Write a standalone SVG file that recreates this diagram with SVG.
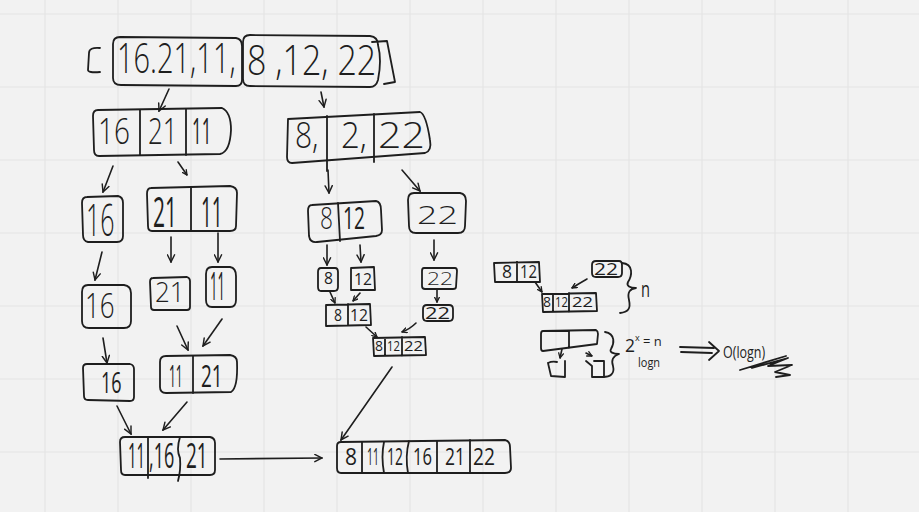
<svg xmlns="http://www.w3.org/2000/svg" width="919" height="512" viewBox="0 0 919 512">
<style>
.bg{fill:#f2f2f2}
.grid line{stroke:#e4e4e4;stroke-width:1.2}
.s{fill:none;stroke:#1e1e1e;stroke-width:1.8;stroke-linecap:round;stroke-linejoin:round}
.t{font-family:"Open Sans","Liberation Sans",sans-serif;font-weight:300;fill:#1e1e1e}
.b{font-weight:500}
.c line,.c path{fill:none;stroke:#1e1e1e;stroke-width:1.6;stroke-linecap:round;stroke-linejoin:round}
</style>
<defs>
<marker id="ah" viewBox="0 0 10 10" refX="9" refY="5" markerWidth="9" markerHeight="9" markerUnits="userSpaceOnUse" orient="auto"><path d="M1,1 L9,5 L1,9" fill="none" stroke="#1e1e1e" stroke-width="1.6" stroke-linecap="round"/></marker>
<marker id="as" viewBox="0 0 10 10" refX="9" refY="5" markerWidth="6" markerHeight="6" markerUnits="userSpaceOnUse" orient="auto"><path d="M1,1 L9,5 L1,9" fill="none" stroke="#1e1e1e" stroke-width="2.2" stroke-linecap="round"/></marker>
</defs>
<rect class="bg" x="0" y="0" width="919" height="512"/>
<g class="grid">
<line x1="45" y1="0" x2="45" y2="512"/><line x1="118" y1="0" x2="118" y2="512"/><line x1="191" y1="0" x2="191" y2="512"/><line x1="264" y1="0" x2="264" y2="512"/><line x1="337" y1="0" x2="337" y2="512"/><line x1="410" y1="0" x2="410" y2="512"/><line x1="483" y1="0" x2="483" y2="512"/><line x1="556" y1="0" x2="556" y2="512"/><line x1="629" y1="0" x2="629" y2="512"/><line x1="702" y1="0" x2="702" y2="512"/><line x1="775" y1="0" x2="775" y2="512"/><line x1="848" y1="0" x2="848" y2="512"/>
<line x1="0" y1="14" x2="919" y2="14"/><line x1="0" y1="87" x2="919" y2="87"/><line x1="0" y1="160" x2="919" y2="160"/><line x1="0" y1="233" x2="919" y2="233"/><line x1="0" y1="306" x2="919" y2="306"/><line x1="0" y1="379" x2="919" y2="379"/><line x1="0" y1="452" x2="919" y2="452"/>
</g>

<g id="top-array">
<path class="s" d="M100,48 Q89,47 89,53 L88,70 Q88,73 100,72"/>
<path class="s" d="M120,37 L236,38 Q242,39 242,46 L242,80 Q242,86 236,86 L121,85 Q113,85 113,78 L113,44 Q113,37 120,37 Z"/>
<path class="s" d="M250,35 L370,36 Q378,37 378,45 Q382,60 378,80 Q376,87 370,87 L250,86 Q243,86 243,79 L243,42 Q243,35 250,35 Z"/>
<path class="s" d="M372,42 L387,41 L395,82 L384,84"/>
<text class="t" transform="translate(117,73) scale(1,1.45)" font-size="29">16.21,11,</text>
<text class="t" transform="translate(247,75) scale(1,1.24)" font-size="34">8 ,12, 22</text>
</g>

<g id="n-16-21-11">
<path class="s" d="M98,110 L222,108 Q231,112 231,130 Q230,152 220,154 L99,156 Q94,156 94,150 L93,116 Q93,110 98,110 Z"/>
<path class="s" d="M140,110 L140,155 M186,109 L186,155"/>
<text class="t" transform="translate(98,144) scale(1,1.29)" font-size="28">16</text>
<text class="t" transform="translate(148,144) scale(1,1.38)" font-size="26">21</text>
<text class="t b" transform="translate(192,144) scale(1,2.12)" font-size="17">11</text>
</g>

<g id="n-8-12-22">
<path class="s" d="M288,119 L420,112 Q426,114 430,140 Q432,151 425,153 L292,163 Q287,163 287,157 Z"/>
<path class="s" d="M327,116 L327,171 M374,114 L374,162"/>
<text class="t" transform="translate(295,148) scale(1,1.2)" font-size="30">8,</text>
<text class="t" transform="translate(341,148) scale(1,1.09)" font-size="33">2,</text>
<text class="t" transform="translate(378,148) scale(1,0.88)" font-size="41">22</text>
</g>

<g id="n-16-a">
<path class="s" d="M87,197 L118,196 Q123,197 123,203 L123,236 Q123,242 117,242 L88,242 Q83,241 83,235 L82,203 Q82,197 87,197 Z"/>
<text class="t" transform="translate(86,236) scale(1,1.76)" font-size="25">16</text>
</g>

<g id="n-21-11">
<path class="s" d="M151,188 L230,186 Q237,187 237,193 L236,226 Q236,231 230,231 L152,231 Q148,231 148,226 L147,194 Q147,188 151,188 Z"/>
<path class="s" d="M191,187 L191,231"/>
<text class="t b" transform="translate(153,227) scale(1,2)" font-size="21">21</text>
<text class="t b" transform="translate(201,227) scale(1,2.21)" font-size="19">11</text>
</g>

<g id="n-21">
<path class="s" d="M153,278 L187,277 Q190,278 190,281 L190,307 Q190,310 187,310 L154,310 Q151,310 151,307 L150,282 Q150,278 153,278 Z"/>
<text class="t" transform="translate(155,302) scale(1,1.08)" font-size="26">21</text>
</g>

<g id="n-11">
<path class="s" d="M212,267 L230,267 Q236,268 236,276 L236,300 Q236,307 230,307 L212,307 Q206,307 206,300 L206,274 Q206,267 212,267 Z"/>
<text class="t b" transform="translate(210,300) scale(1,2.9)" font-size="13">11</text>
</g>

<g id="n-16-b">
<path class="s" d="M88,285 L124,285 Q131,286 131,293 L131,321 Q131,328 124,328 L89,328 Q82,328 82,321 L82,292 Q82,285 88,285 Z"/>
<text class="t" transform="translate(85,318) scale(1,1.35)" font-size="26">16</text>
</g>

<g id="n-16-c">
<path class="s" d="M87,364 L130,364 Q134,365 134,369 L134,397 Q134,401 130,401 L88,400 Q84,400 84,396 L83,368 Q83,364 87,364 Z"/>
<text class="t b" transform="translate(101,393) scale(1,1.67)" font-size="18">16</text>
</g>

<g id="n-11-21">
<path class="s" d="M166,356 L230,355 Q237,356 237,362 Q238,388 231,392 L166,393 Q160,393 160,387 L160,362 Q160,356 166,356 Z"/>
<path class="s" d="M193,356 L193,393"/>
<text class="t b" transform="translate(169,387) scale(1,2.58)" font-size="12">11</text>
<text class="t b" transform="translate(201,387) scale(1,1.63)" font-size="19">21</text>
</g>

<g id="n-11-16-21">
<path class="s" d="M125,437 L210,437 Q215,438 215,443 L215,470 Q215,475 210,475 L125,475 Q121,475 121,470 L120,442 Q120,437 125,437 Z"/>
<path class="s" d="M148,437 L148,478 M180,437 Q176,450 180,458 Q181,470 178,481"/>
<text class="t b" transform="translate(128,468) scale(1,2.33)" font-size="15">11</text>
<text class="t b" transform="translate(149,468) scale(1,1.95)" font-size="18">,16</text>
<text class="t b" transform="translate(186,468) scale(1,1.84)" font-size="19">21</text>
</g>

<g id="n-sorted">
<path class="s" d="M341,442 L505,440 Q510,441 510,447 L511,468 Q511,473 505,473 L341,473 Q337,473 337,468 L337,446 Q337,442 341,442 Z"/>
<path class="s" d="M362,442 L362,473 M384,442 Q381,456 384,473 M409,441 Q405,456 408,473 M437,441 L437,473 M470,440 L470,473"/>
<text class="t b" transform="translate(345,465) scale(1,1.14)" font-size="21">8</text>
<text class="t b" transform="translate(367,465) scale(1,2.28)" font-size="10.5">11</text>
<text class="t b" transform="translate(387,465) scale(1,1.71)" font-size="14">12</text>
<text class="t b" transform="translate(413,465) scale(1,1.44)" font-size="16.6">16</text>
<text class="t b" transform="translate(445,465) scale(1,1.37)" font-size="17.5">21</text>
<text class="t b" transform="translate(473,465) scale(1,1.25)" font-size="19.2">22</text>
</g>

<g id="n-8-12">
<path class="s" d="M312,205 L376,201 Q381,202 381,210 L382,230 Q382,235 376,236 L317,242 Q310,243 309,236 L308,211 Q308,205 312,205 Z"/>
<path class="s" d="M338,203 L340,241"/>
<text class="t" transform="translate(320,229) scale(1,1.36)" font-size="22.7">8</text>
<text class="t b" transform="translate(343,229) scale(1,1.61)" font-size="19.2">12</text>
</g>

<g id="n-22">
<path class="s" d="M414,193 L460,193 Q466,194 466,201 L465,226 Q465,233 458,233 L416,233 Q409,233 409,226 L408,200 Q408,193 414,193 Z"/>
<text class="t" transform="translate(417,224) scale(1,0.72)" font-size="35.8">22</text>
</g>

<g id="n-8">
<path class="s" d="M321,268 L335,268 Q338,268 338,272 L338,287 Q338,291 334,291 L321,291 Q318,291 318,287 L318,272 Q318,268 321,268 Z"/>
<text class="t b" transform="translate(324,284) scale(1,1.08)" font-size="15.7">8</text>
</g>

<g id="n-12">
<path class="s" d="M351,268 L374,267 L375,290 L351,290 Z"/>
<text class="t b" transform="translate(354,285) scale(1,1.08)" font-size="15.7">12</text>
</g>

<g id="n-22-b">
<path class="s" d="M424,268 L455,268 Q457,268 457,271 L456,287 Q456,289 453,289 L425,289 Q422,289 422,286 L422,271 Q422,268 424,268 Z"/>
<text class="t" transform="translate(427,285) scale(1,0.8)" font-size="22.7">22</text>
</g>

<g id="n-8-12-b">
<path class="s" d="M326,305 L370,304 L371,325 L326,326 Z M348,304 L348,325"/>
<text class="t b" transform="translate(334,321) scale(1,1.14)" font-size="14">8</text>
<text class="t b" transform="translate(350,321) scale(1,1.02)" font-size="15.7">12</text>
</g>

<g id="n-22-c">
<path class="s" d="M427,305 L449,305 Q453,305 453,309 L453,317 Q453,321 449,321 L427,321 Q423,321 423,317 L423,309 Q423,305 427,305 Z"/>
<text class="t b" transform="translate(425,319) scale(1,0.73)" font-size="21.9">22</text>
</g>

<g id="n-8-12-22-b">
<path class="s" d="M373,338 L425,337 L426,355 L374,356 Z M385,338 L385,356 M402,337 L402,356"/>
<text class="t b" transform="translate(375,351) scale(1,1.07)" font-size="14">8</text>
<text class="t b" transform="translate(387,351) scale(1,1.31)" font-size="11.4">12</text>
<text class="t b" transform="translate(404,351) scale(1,0.9)" font-size="16.6">22</text>
</g>

<g id="ex-8-12">
<path class="s" d="M494,263 L539,262 L540,282 L495,282 Z M517,262 L517,282"/>
<text class="t b" transform="translate(502,278) scale(1,1.03)" font-size="17.5">8</text>
<text class="t b" transform="translate(520,278) scale(1,1.21)" font-size="14.9">12</text>
</g>

<g id="ex-22">
<path class="s" d="M596,261 L619,261 Q622,261 622,265 L622,273 Q622,277 618,277 L596,277 Q592,277 592,273 L592,265 Q592,261 596,261 Z"/>
<text class="t b" transform="translate(594,275) scale(1,0.76)" font-size="21">22</text>
</g>

<g id="ex-8-12-22">
<path class="s" d="M542,294 L596,293 L597,311 L543,312 Z M553,294 L553,312 M569,293 L569,312"/>
<text class="t b" transform="translate(543,307) scale(1,1.07)" font-size="14">8</text>
<text class="t b" transform="translate(555,307) scale(1,1.31)" font-size="11.4">12</text>
<text class="t b" transform="translate(572,307) scale(1,0.81)" font-size="18.4">22</text>
</g>

<g id="ex-brace-n">
<path class="s" d="M622,263 C634,264 632,276 628,282 C626,286 630,288 636,288 C630,289 627,292 629,300 C631,309 628,312 620,313"/>
<text class="t b" transform="translate(641,297) scale(1,1.5)" font-size="14.7">n</text>
</g>

<g id="ex-split">
<path class="s" d="M543,331 L596,330 Q598,331 598,334 L597,344 L543,351 Q541,351 541,348 L541,334 Q541,331 543,331 Z M569,331 L569,348"/>
<path class="s" d="M548,363 Q552,361 557,362 M548,363 L551,376 L565,377 L565,361"/>
<path class="s" d="M586,361 L592,366 L592,377 L604,377 L604,361 L594,361"/>
</g>

<g id="ex-brace-log">
<path class="s" d="M605,332 C616,334 614,344 611,349 C609,352 613,354 619,354 C613,356 611,360 613,366 C615,374 610,377 603,377"/>
<text class="t b" transform="translate(625,352) scale(1,1.03)" font-size="17.5">2</text>
<text class="t b" transform="translate(635,341) scale(1,1.01)" font-size="9">x</text>
<text class="t b" transform="translate(643,346) scale(1,1.01)" font-size="13">= n</text>
<text class="t b" transform="translate(638,367) scale(1,1.15)" font-size="11">logn</text>
</g>

<g id="ex-result">
<path class="s" d="M680,347 L714,348 M681,352 L712,353 M709,342 L719,351 L709,360"/>
<text class="t b" transform="translate(723,358) scale(1,1.28)" font-size="12.5">O(logn)</text>
<path class="s" d="M740,370 L786,356 M752,368 L788,358 L768,366 L792,365 L775,372 L790,375 L776,377"/>
</g>

<g class="c" id="connectors">
<line x1="169" y1="89" x2="159" y2="111" marker-end="url(#ah)"/>
<line x1="321" y1="92" x2="324" y2="107" marker-end="url(#ah)"/>
<line x1="113" y1="166" x2="103" y2="192" marker-end="url(#ah)"/>
<line x1="178" y1="162" x2="187" y2="175" marker-end="url(#as)"/>
<line x1="328" y1="170" x2="329" y2="193" marker-end="url(#ah)"/>
<line x1="402" y1="170" x2="420" y2="191" marker-end="url(#ah)"/>
<line x1="171" y1="237" x2="171" y2="262" marker-end="url(#ah)"/>
<line x1="218" y1="233" x2="218" y2="262" marker-end="url(#ah)"/>
<line x1="102" y1="252" x2="95" y2="280" marker-end="url(#ah)"/>
<line x1="327" y1="245" x2="327" y2="265" marker-end="url(#ah)"/>
<line x1="360" y1="245" x2="361" y2="262" marker-end="url(#ah)"/>
<line x1="434" y1="240" x2="434" y2="260" marker-end="url(#ah)"/>
<line x1="330" y1="292" x2="335" y2="303" marker-end="url(#as)"/>
<line x1="360" y1="293" x2="353" y2="301" marker-end="url(#as)"/>
<line x1="437" y1="290" x2="437" y2="302" marker-end="url(#as)"/>
<line x1="366" y1="327" x2="377" y2="337" marker-end="url(#as)"/>
<path d="M416,323 Q410,329 402,332" marker-end="url(#as)"/>
<line x1="103" y1="338" x2="107" y2="363" marker-end="url(#ah)"/>
<line x1="177" y1="326" x2="188" y2="350" marker-end="url(#ah)"/>
<line x1="222" y1="319" x2="203" y2="346" marker-end="url(#ah)"/>
<line x1="117" y1="406" x2="131" y2="434" marker-end="url(#ah)"/>
<line x1="187" y1="402" x2="163" y2="430" marker-end="url(#ah)"/>
<line x1="220" y1="459" x2="322" y2="458" marker-end="url(#ah)"/>
<line x1="392" y1="367" x2="341" y2="440" marker-end="url(#ah)"/>
<line x1="535" y1="282" x2="542" y2="292" marker-end="url(#as)"/>
<path d="M587,279 Q580,283 572,288" marker-end="url(#as)"/>
<line x1="562" y1="349" x2="560" y2="358" marker-end="url(#as)"/>
<line x1="586" y1="353" x2="592" y2="356" marker-end="url(#as)"/>
</g>
</svg>
